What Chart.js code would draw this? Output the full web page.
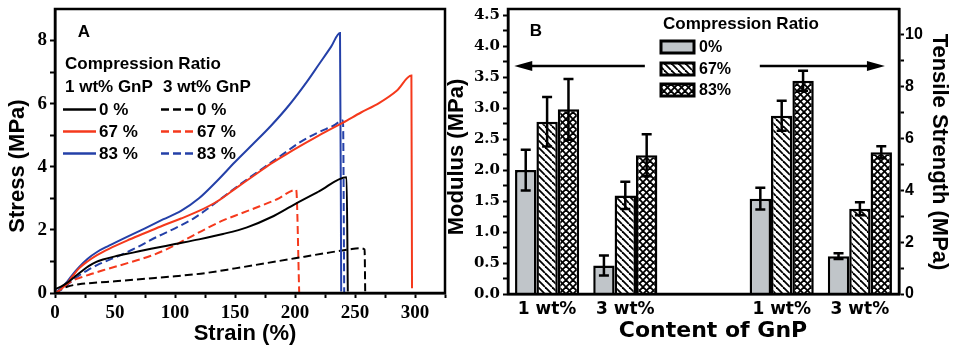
<!DOCTYPE html>
<html>
<head>
<meta charset="utf-8">
<script src="https://cdn.jsdelivr.net/npm/chart.js@4.4.1/dist/chart.umd.min.js"></script>
<style>
  html, body { margin: 0; padding: 0; background: #fff; }
  #wrap { position: relative; width: 957px; height: 353px; overflow: hidden; background: #fff; }
  canvas { position: absolute; top: 0; }
  #chartA { left: 0; }
  #chartB { left: 440px; }
</style>
</head>
<body>
<div id="wrap">
  <canvas id="chartA" width="450" height="353"></canvas>
  <canvas id="chartB" width="517" height="353"></canvas>
</div>
<script>
// ---------- Panel A : stress-strain curves ----------
const curveLabels = ['0 %', '67 %', '83 %'];
const curveColors = ['#000000', '#f5391c', '#2440a8'];

// 1 wt% GnP (solid)
const strain1wt0 = [0, 5, 10, 16, 22, 28, 34, 40, 50, 65, 80, 100, 120, 140, 160, 180, 200, 220, 243, 244];
const stress1wt0 = [0.12, 0.2, 0.32, 0.5, 0.68, 0.85, 0.98, 1.06, 1.16, 1.28, 1.4, 1.55, 1.7, 1.87, 2.08, 2.4, 2.82, 3.22, 3.67, 0.05];
const strain1wt67 = [0, 5, 10, 15, 20, 27, 35, 45, 60, 75, 90, 105, 120, 135, 150, 165, 180, 195, 210, 225, 240, 255, 270, 285, 297, 297.5];
const stress1wt67 = [0, 0.12, 0.3, 0.55, 0.78, 1.0, 1.2, 1.4, 1.66, 1.9, 2.14, 2.36, 2.6, 2.9, 3.3, 3.7, 4.1, 4.45, 4.78, 5.1, 5.4, 5.72, 6.02, 6.42, 6.89, 0.15];
const strain1wt83 = [0, 5, 10, 15, 20, 27, 35, 45, 60, 75, 90, 105, 120, 135, 150, 165, 180, 195, 210, 220, 230, 237.5, 238.5];
const stress1wt83 = [0, 0.15, 0.35, 0.6, 0.82, 1.08, 1.3, 1.5, 1.78, 2.05, 2.33, 2.6, 3.0, 3.55, 4.15, 4.72, 5.3, 5.95, 6.7, 7.25, 7.8, 8.24, 0.05];
// 3 wt% GnP (dashed)
const strain3wt0 = [0, 5, 10, 20, 35, 50, 75, 100, 125, 150, 175, 200, 225, 245, 254, 258, 258.5];
const stress3wt0 = [0, 0.12, 0.2, 0.28, 0.33, 0.37, 0.45, 0.53, 0.63, 0.78, 0.94, 1.1, 1.26, 1.38, 1.42, 1.38, 0.03];
const strain3wt67 = [0, 5, 10, 15, 22, 30, 40, 50, 65, 80, 95, 110, 125, 140, 155, 170, 185, 201, 203.5];
const stress3wt67 = [0, 0.12, 0.28, 0.4, 0.5, 0.6, 0.72, 0.83, 1.0, 1.18, 1.42, 1.72, 2.02, 2.3, 2.52, 2.74, 2.97, 3.27, 0.02];
const strain3wt83 = [0, 5, 10, 18, 27, 37, 47, 57, 70, 85, 100, 115, 130, 145, 160, 175, 190, 205, 220, 232, 240, 241];
const stress3wt83 = [0, 0.1, 0.25, 0.5, 0.72, 0.92, 1.08, 1.24, 1.48, 1.78, 2.05, 2.35, 2.75, 3.18, 3.6, 4.0, 4.4, 4.8, 5.1, 5.3, 5.47, 0.02];

// ---------- Panel B : bars ----------
const contentLabels = ['1 wt%', '3 wt%', '', '1 wt%', '3 wt%'];
const ratioLabels = ['0%', '67%', '83%'];
const modulus0 = [2.0, 0.46];
const modulus67 = [2.78, 1.59];
const modulus83 = [2.98, 2.24];
const modulusErr0 = [0.33, 0.16];
const modulusErr67 = [0.4, 0.22];
const modulusErr83 = [0.49, 0.34];
const tensile0 = [3.68, 1.46];
const tensile67 = [6.88, 3.29];
const tensile83 = [8.23, 5.47];
const tensileErr0 = [0.42, 0.11];
const tensileErr67 = [0.58, 0.25];
const tensileErr83 = [0.39, 0.23];

Chart.defaults.color = '#000';
Chart.defaults.font.family = '"Liberation Sans", Arial, sans-serif';

const SANS = '"Liberation Sans", Arial, sans-serif';
const pts = (xs, ys) => xs.map((x, i) => ({ x: x, y: ys[i] }));

// frame round the plot area
const frame = {
  id: 'frame',
  afterDatasetsDraw(chart) {
    const { ctx, chartArea: a } = chart;
    ctx.save();
    ctx.lineWidth = 2.5;
    ctx.strokeStyle = '#000';
    ctx.strokeRect(a.left, a.top, a.right - a.left, a.bottom - a.top);
    ctx.restore();
  }
};

function vText(ctx, txt, x, y, ang) {
  ctx.save();
  ctx.translate(x, y);
  ctx.rotate(ang);
  ctx.fillText(txt, 0, 0);
  ctx.restore();
}

const textA = {
  id: 'textA',
  afterDraw(chart) {
    const ctx = chart.ctx;
    ctx.save();
    ctx.fillStyle = '#000';
    ctx.textBaseline = 'middle';
    ctx.textAlign = 'center';
    ctx.font = 'bold 22px ' + SANS;
    ctx.fillText('Strain (%)', 245, 334);
    vText(ctx, 'Stress (MPa)', 18, 166, -Math.PI / 2);
    ctx.font = 'bold 17px ' + SANS;
    ctx.fillText('A', 84, 32);

    // legend
    ctx.textAlign = 'left';
    ctx.fillText('Compression Ratio', 65, 64);
    ctx.fillText('1 wt% GnP', 65, 87);
    ctx.fillText('3 wt% GnP', 163, 87);
    chart.data.datasets.forEach((ds, i) => {
      const col = i < 3 ? 0 : 1;
      const y = 109.5 + (i % 3) * 22;
      const x0 = col ? 161 : 63;
      ctx.strokeStyle = ds.borderColor;
      ctx.lineWidth = 2.5;
      ctx.setLineDash(ds.borderDash || []);
      ctx.beginPath();
      ctx.moveTo(x0, y);
      ctx.lineTo(x0 + 33, y);
      ctx.stroke();
      ctx.setLineDash([]);
      ctx.fillText(ds.label, x0 + 36, y + 1);
    });
    ctx.restore();
  }
};

const tickGrid = { drawOnChartArea: false, tickLength: 5, tickWidth: 2, tickColor: '#000' };
const axisBorder = { display: true, color: '#000', width: 2.5 };
const serifA = { family: '"Liberation Serif", "Times New Roman", serif', weight: 'bold', size: 19 };

const lineSets = [
  [strain1wt0, stress1wt0], [strain1wt67, stress1wt67], [strain1wt83, stress1wt83],
  [strain3wt0, stress3wt0], [strain3wt67, stress3wt67], [strain3wt83, stress3wt83]
].map((s, i) => ({
  label: curveLabels[i % 3],
  data: pts(s[0], s[1]),
  borderColor: curveColors[i % 3],
  borderDash: i < 3 ? [] : [8, 4],
  borderWidth: 2,
  pointRadius: 0,
  cubicInterpolationMode: 'monotone',
  fill: false
}));

new Chart(document.getElementById('chartA'), {
  type: 'line',
  data: { datasets: lineSets },
  options: {
    responsive: false,
    animation: false,
    layout: { padding: { top: 9, right: 5, left: 0, bottom: 0 } },
    plugins: { legend: { display: false }, tooltip: { enabled: false } },
    scales: {
      x: {
        type: 'linear', min: 0, max: 325,
        ticks: {
          stepSize: 25, autoSkip: false, maxRotation: 0, padding: 4, font: serifA,
          callback: v => (v % 50 === 0 && v < 325) ? String(v) : ''
        },
        grid: tickGrid, border: axisBorder,
        afterFit: s => { s.height = 60; s.paddingLeft = 0; s.paddingRight = 0; }
      },
      y: {
        min: 0, max: 9,
        ticks: {
          stepSize: 1, autoSkip: false, padding: 3, font: serifA,
          callback: v => v === 9 ? null : (v % 2 === 0 ? String(v) : '')
        },
        grid: tickGrid, border: axisBorder,
        afterFit: s => { s.width = 55; s.paddingTop = 0; s.paddingBottom = 0; }
      }
    }
  },
  plugins: [frame, textA]
});

// ---------- Panel B ----------
const ctxB = document.getElementById('chartB').getContext('2d');

function hatch(cross) {
  const s = 7;
  const c = document.createElement('canvas');
  c.width = s; c.height = s;
  const g = c.getContext('2d');
  g.fillStyle = '#fff';
  g.fillRect(0, 0, s, s);
  g.strokeStyle = '#000';
  g.lineWidth = 1.8;
  for (let k = -1; k <= 1; k++) {
    g.beginPath(); g.moveTo(k * s, 0); g.lineTo(k * s + s, s); g.stroke();
    if (cross) { g.beginPath(); g.moveTo(k * s, s); g.lineTo(k * s + s, 0); g.stroke(); }
  }
  return ctxB.createPattern(c, 'repeat');
}

const barFills = ['#c0c5c9', hatch(false), hatch(true)];
const padL = v => [v[0], v[1], null, null, null];
const padR = v => [null, null, null, v[0], v[1]];

const modulusSets = [modulus0, modulus67, modulus83];
const modulusErrs = [modulusErr0, modulusErr67, modulusErr83];
const tensileSets = [tensile0, tensile67, tensile83];
const tensileErrs = [tensileErr0, tensileErr67, tensileErr83];

const barSets = [];
modulusSets.forEach((v, i) => barSets.push({
  label: ratioLabels[i], data: padL(v), errors: padL(modulusErrs[i]),
  yAxisID: 'y', backgroundColor: barFills[i]
}));
tensileSets.forEach((v, i) => barSets.push({
  label: ratioLabels[i], data: padR(v), errors: padR(tensileErrs[i]),
  yAxisID: 'y2', backgroundColor: barFills[i]
}));

const errorBars = {
  id: 'errorBars',
  afterDatasetsDraw(chart) {
    const ctx = chart.ctx;
    ctx.save();
    ctx.strokeStyle = '#000';
    ctx.lineWidth = 2.5;
    chart.data.datasets.forEach((ds, di) => {
      const meta = chart.getDatasetMeta(di);
      const sc = chart.scales[ds.yAxisID];
      meta.data.forEach((bar, i) => {
        const v = ds.data[i];
        if (v == null) return;
        const e = ds.errors[i];
        const yt = sc.getPixelForValue(v + e);
        const yb = sc.getPixelForValue(v - e);
        ctx.beginPath();
        ctx.moveTo(bar.x, yt); ctx.lineTo(bar.x, yb);
        ctx.moveTo(bar.x - 5, yt); ctx.lineTo(bar.x + 5, yt);
        ctx.moveTo(bar.x - 5, yb); ctx.lineTo(bar.x + 5, yb);
        ctx.stroke();
      });
    });
    ctx.restore();
  }
};

function arrow(ctx, x0, x1, y) {
  const dir = Math.sign(x1 - x0);
  ctx.beginPath();
  ctx.moveTo(x0, y);
  ctx.lineTo(x1 - dir * 14, y);
  ctx.stroke();
  ctx.beginPath();
  ctx.moveTo(x1, y);
  ctx.lineTo(x1 - dir * 18, y - 5);
  ctx.lineTo(x1 - dir * 18, y + 5);
  ctx.closePath();
  ctx.fill();
}

const textB = {
  id: 'textB',
  afterDraw(chart) {
    const ctx = chart.ctx;
    const xs = chart.scales.x, ys = chart.scales.y;
    ctx.save();
    ctx.fillStyle = '#000';
    ctx.strokeStyle = '#000';
    ctx.lineWidth = 2.5;
    // arrows pointing at the axis each group belongs to
    const ya = ys.getPixelForValue(3.68);
    arrow(ctx, xs.getPixelForValue(1.25), xs.getPixelForValue(-0.42), ya);
    arrow(ctx, xs.getPixelForValue(2.72), xs.getPixelForValue(4.32), ya);

    ctx.textBaseline = 'middle';
    ctx.textAlign = 'center';
    ctx.font = 'bold 22px ' + SANS;
    vText(ctx, 'Modulus (MPa)', 17, 157, -Math.PI / 2);
    vText(ctx, 'Tensile Strength (MPa)', 499, 152, Math.PI / 2);
    ctx.font = 'bold 22px "DejaVu Sans", sans-serif';
    ctx.fillText('Content of GnP', 273, 331);
    ctx.font = 'bold 17px ' + SANS;
    ctx.fillText('B', 96, 31);

    // legend
    ctx.textAlign = 'left';
    ctx.fillText('Compression Ratio', 223, 24);
    ctx.font = 'bold 16px ' + SANS;
    chart.data.datasets.slice(0, 3).forEach((ds, i) => {
      const y = [47, 69, 90][i];
      ctx.fillStyle = ds.backgroundColor;
      ctx.fillRect(221, y - 6, 33, 12);
      ctx.lineWidth = 3;
      ctx.strokeRect(221, y - 6, 33, 12);
      ctx.fillStyle = '#000';
      ctx.fillText(ds.label, 259, y + 1);
    });
    ctx.restore();
  }
};

new Chart(ctxB, {
  type: 'bar',
  data: { labels: contentLabels, datasets: barSets },
  options: {
    responsive: false,
    animation: false,
    layout: { padding: { top: 9, right: 0, left: 0, bottom: 0 } },
    plugins: { legend: { display: false }, tooltip: { enabled: false } },
    datasets: {
      bar: {
        barPercentage: 1, categoryPercentage: 0.82, skipNull: true,
        borderWidth: 2.5, borderColor: '#000', borderSkipped: 'start'
      }
    },
    scales: {
      x: {
        grid: { display: false, drawTicks: false },
        border: axisBorder,
        ticks: { autoSkip: false, maxRotation: 0, padding: 5, font: { family: '"DejaVu Sans", sans-serif', weight: 'bold', size: 17 } },
        afterFit: s => { s.height = 59; s.paddingLeft = 0; s.paddingRight = 0; }
      },
      y: {
        position: 'left', min: 0, max: 4.6,
        ticks: {
          stepSize: 0.25, autoSkip: false, includeBounds: false, padding: 3,
          font: { family: '"DejaVu Serif", serif', weight: 'bold', size: 15 },
          callback: v => Math.abs(v * 2 - Math.round(v * 2)) < 1e-6 ? v.toFixed(1) : ''
        },
        grid: tickGrid, border: axisBorder,
        afterFit: s => { s.width = 68; s.paddingTop = 0; s.paddingBottom = 0; }
      },
      y2: {
        position: 'right', min: 0, max: 11,
        ticks: {
          stepSize: 1, autoSkip: false, padding: 1,
          font: { family: SANS, weight: 'bold', size: 16 },
          callback: v => v === 11 ? null : (v % 2 === 0 ? String(v) : '')
        },
        grid: tickGrid, border: axisBorder,
        afterFit: s => { s.width = 58; s.paddingTop = 0; s.paddingBottom = 0; }
      }
    }
  },
  plugins: [errorBars, frame, textB]
});
</script>
</body>
</html>
